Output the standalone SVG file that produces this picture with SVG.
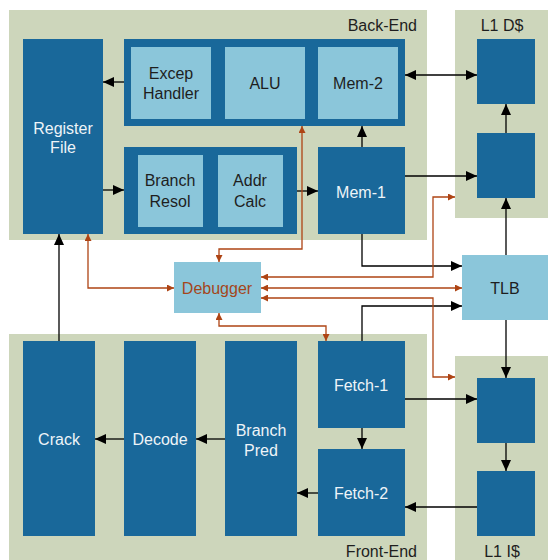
<svg xmlns="http://www.w3.org/2000/svg" width="548" height="560" viewBox="0 0 548 560">
<style>
.panel{fill:#CDD6BB}
.dark{fill:#19689A}
.light{fill:#8BC6DA}
text{font-family:"Liberation Sans",Arial,sans-serif;font-size:16px;text-anchor:middle}
.wt{fill:#EEF4F8}
.bt{fill:#1E1E1E}
.ot{fill:#A4461A}
.lbl{fill:#1E1E1E}
.blk{fill:none;stroke:#000;stroke-width:1.3}
.org{fill:none;stroke:#AE4414;stroke-width:1.3}
</style>
<defs>
<marker id="ab" markerUnits="userSpaceOnUse" markerWidth="11" markerHeight="10" refX="11" refY="5" orient="auto-start-reverse"><path d="M0,0 L11,5 L0,10 z" fill="#000"/></marker>
<marker id="ao" markerUnits="userSpaceOnUse" markerWidth="7" markerHeight="7" refX="7" refY="3.5" orient="auto-start-reverse"><path d="M0,0 L7,3.5 L0,7 z" fill="#AE4414"/></marker>
</defs>
<rect width="548" height="560" fill="#fff"/>
<g id="backend"><rect class="panel" x="9" y="10" width="418" height="230"/><text class="lbl" x="417" y="31" style="text-anchor:end">Back-End</text></g>
<g id="l1d"><rect class="panel" x="455" y="10" width="93" height="208"/><text class="lbl" x="502" y="31">L1 D$</text></g>
<g id="frontend"><rect class="panel" x="9" y="334" width="418" height="226"/><text class="lbl" x="417" y="557" style="text-anchor:end">Front-End</text></g>
<g id="l1i"><rect class="panel" x="455" y="356" width="93" height="204"/><text class="lbl" x="502" y="557">L1 I$</text></g>

<g id="regfile"><rect class="dark" x="23" y="39" width="80" height="195"/><text class="wt" x="63" y="134">Register</text><text class="wt" x="63" y="153">File</text></g>
<g id="execgroup"><rect class="dark" x="124" y="39" width="281" height="87"/></g>
<g id="excep"><rect class="light" x="131" y="47" width="80" height="72"/><text class="bt" x="171" y="79">Excep</text><text class="bt" x="171" y="99">Handler</text></g>
<g id="alu"><rect class="light" x="225" y="47" width="80" height="72"/><text class="bt" x="265" y="89">ALU</text></g>
<g id="mem2"><rect class="light" x="318" y="47" width="80" height="72"/><text class="bt" x="358" y="89">Mem-2</text></g>
<g id="brgroup"><rect class="dark" x="124" y="147" width="173" height="87"/></g>
<g id="brresol"><rect class="light" x="138" y="155" width="65" height="72"/><text class="bt" x="170" y="186">Branch</text><text class="bt" x="170" y="207">Resol</text></g>
<g id="addrcalc"><rect class="light" x="218" y="155" width="65" height="72"/><text class="bt" x="250" y="186">Addr</text><text class="bt" x="250" y="207">Calc</text></g>
<g id="mem1"><rect class="dark" x="318" y="147" width="87" height="87"/><text class="wt" x="361" y="198">Mem-1</text></g>
<g id="l1d1"><rect class="dark" x="477" y="39" width="58" height="65"/></g>
<g id="l1d2"><rect class="dark" x="477" y="133" width="58" height="65"/></g>
<g id="debugger"><rect class="light" x="174" y="262" width="87" height="51"/><text class="ot" x="217" y="294">Debugger</text></g>
<g id="tlb"><rect class="light" x="462" y="255" width="86" height="65"/><text class="bt" x="505" y="294">TLB</text></g>
<g id="crack"><rect class="dark" x="23" y="341" width="72" height="195"/><text class="wt" x="59" y="445">Crack</text></g>
<g id="decode"><rect class="dark" x="124" y="341" width="72" height="195"/><text class="wt" x="160" y="445">Decode</text></g>
<g id="brpred"><rect class="dark" x="225" y="341" width="72" height="195"/><text class="wt" x="261" y="436">Branch</text><text class="wt" x="261" y="456">Pred</text></g>
<g id="fetch1"><rect class="dark" x="318" y="341" width="87" height="87"/><text class="wt" x="361" y="391">Fetch-1</text></g>
<g id="fetch2"><rect class="dark" x="318" y="449" width="87" height="87"/><text class="wt" x="361" y="499">Fetch-2</text></g>
<g id="l1i1"><rect class="dark" x="477" y="378" width="58" height="65"/></g>
<g id="l1i2"><rect class="dark" x="477" y="471" width="58" height="65"/></g>

<g id="connectors">
<path class="blk" marker-end="url(#ab)" d="M124,82 H103"/>
<path class="blk" marker-end="url(#ab)" d="M103,190 H124"/>
<path class="blk" marker-end="url(#ab)" d="M297,191 H318"/>
<path class="blk" marker-end="url(#ab)" d="M362,147 V126"/>
<path class="blk" marker-start="url(#ab)" marker-end="url(#ab)" d="M405,75 H477"/>
<path class="blk" marker-end="url(#ab)" d="M405,176 H477"/>
<path class="blk" marker-end="url(#ab)" d="M506,133 V104"/>
<path class="blk" marker-end="url(#ab)" d="M506,255 V198"/>
<path class="blk" marker-end="url(#ab)" d="M362,234 V266 H462"/>
<path class="blk" marker-end="url(#ab)" d="M362,341 V306 H462"/>
<path class="blk" marker-end="url(#ab)" d="M506,320 V378"/>
<path class="blk" marker-end="url(#ab)" d="M59,341 V234"/>
<path class="blk" marker-end="url(#ab)" d="M124,439 H95"/>
<path class="blk" marker-end="url(#ab)" d="M225,439 H196"/>
<path class="blk" marker-end="url(#ab)" d="M318,493 H297"/>
<path class="blk" marker-end="url(#ab)" d="M362,428 V449"/>
<path class="blk" marker-end="url(#ab)" d="M405,399 H477"/>
<path class="blk" marker-end="url(#ab)" d="M506,443 V471"/>
<path class="blk" marker-end="url(#ab)" d="M477,507 H405"/>
<path class="org" marker-start="url(#ao)" marker-end="url(#ao)" d="M219,262 V249 H302 V126"/>
<path class="org" marker-start="url(#ao)" marker-end="url(#ao)" d="M88,234 V288 H174"/>
<path class="org" marker-start="url(#ao)" marker-end="url(#ao)" d="M261,277 H433 V197 H455"/>
<path class="org" marker-start="url(#ao)" marker-end="url(#ao)" d="M261,288 H462"/>
<path class="org" marker-start="url(#ao)" marker-end="url(#ao)" d="M261,298 H433 V377 H455"/>
<path class="org" marker-start="url(#ao)" marker-end="url(#ao)" d="M219,313 V326 H326 V341"/>
</g>
</svg>
